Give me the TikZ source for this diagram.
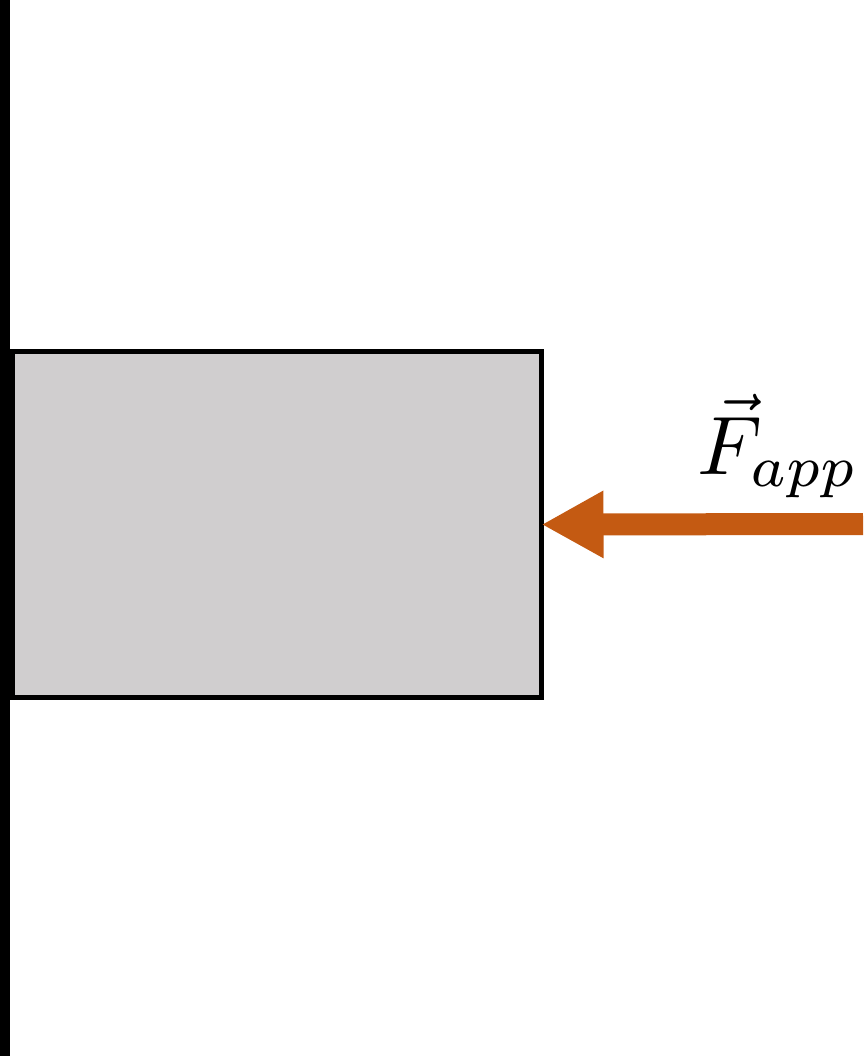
\documentclass[tikz,border=0pt]{standalone}
\usepackage{graphicx}
\usetikzlibrary{arrows.meta}
\definecolor{blockgray}{RGB}{208,206,207}
\definecolor{forceorange}{RGB}{196,90,18}
\begin{document}
\begin{tikzpicture}[x=1pt,y=-1pt]
          \useasboundingbox (0,0) rectangle (863,1062);
          % wall
          \fill[black] (0,0) rectangle (10,1056);
          \begin{scope}[every node/.style={draw=black,line width=5pt,fill=blockgray,outer sep=0pt,inner sep=0pt}]
            \node[minimum width=529.5pt,minimum height=346pt] (block) at (276.75,524.5) {};
          \end{scope}
          \coordinate (tail) at (863,524);
          \begin{scope}[every path/.style={draw=forceorange,line width=22pt,-{Triangle[length=62pt,width=63pt]}}]
            \path (tail) -- (block.east);
          \end{scope}
          \node[anchor=base,inner sep=0pt] (lbl) at (778,474) {\scalebox{8.3}{$\vec{F}_{app}$}};
        \end{tikzpicture}
\end{document}
